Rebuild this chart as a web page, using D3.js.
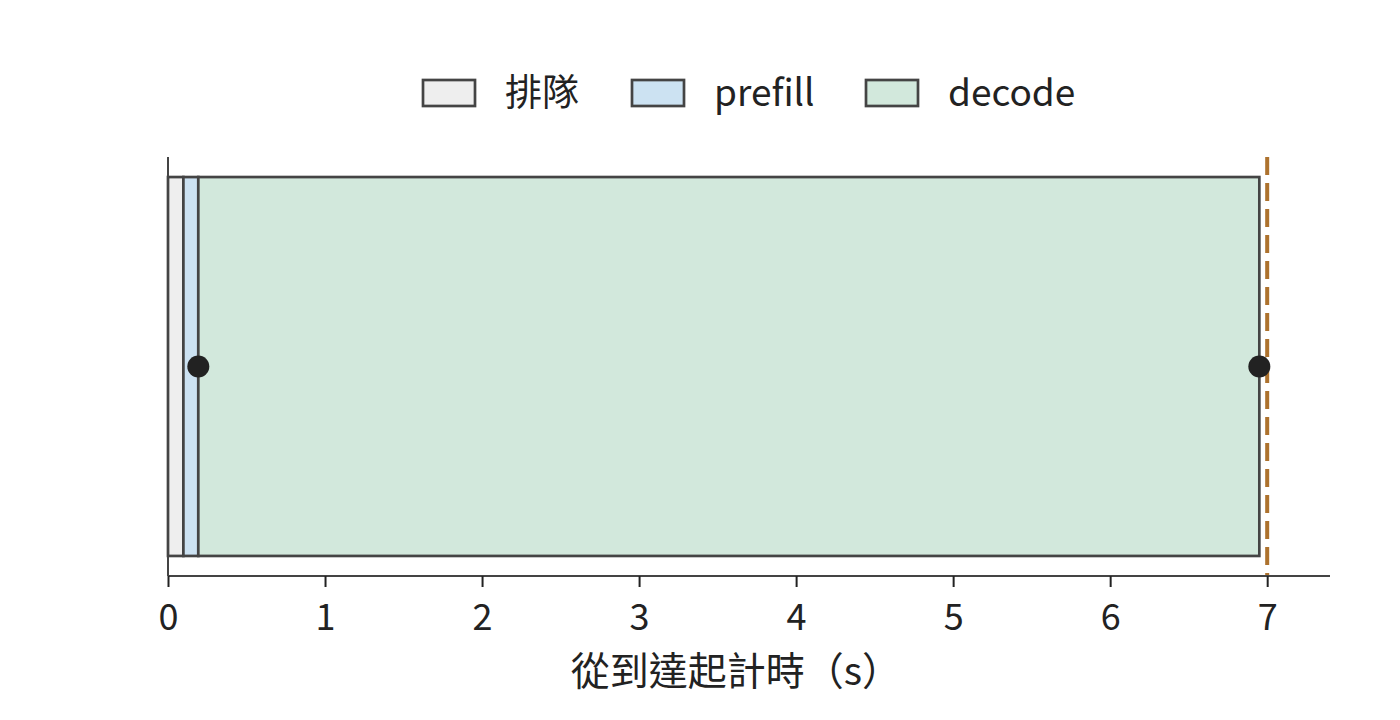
<!DOCTYPE html>
<html>
<head>
<meta charset="utf-8">
<script src="https://cdn.jsdelivr.net/npm/d3@7"></script>
<style>
  body { margin: 0; background: #fff; }
  text { font-family: "Noto Sans CJK TC", "Noto Sans", sans-serif; fill: #222; }
</style>
</head>
<body>
<svg id="chart" width="1400" height="720"></svg>
<script>
// stages of one request (seconds from arrival)
var stages = ["排隊", "prefill", "decode"];
var stageStart = [0, 0.098, 0.193];
var stageEnd = [0.098, 0.193, 6.95];
var stageColors = ["#eeeeee", "#cce2f2", "#d2e8dc"];

var markerTimes = [0.193, 6.95];   // first token, last token
var deadline = 7.0;

var xTicks = [0, 1, 2, 3, 4, 5, 6, 7];
var xLabel = "從到達起計時（s）";

var svg = d3.select("#chart");

var plotLeft = 168, plotRight = 1330, plotTop = 157, plotBottom = 576;

var x = d3.scaleLinear()
    .domain([0, 7.4])
    .range([plotLeft, plotRight]);

var y = d3.scaleBand()
    .domain(["req"])
    .range([plotTop, plotBottom])
    .paddingInner(0)
    .paddingOuter(0.05);

// bars
var bars = stages.map(function(s, i) {
    return {name: s, start: stageStart[i], end: stageEnd[i], color: stageColors[i]};
});

svg.selectAll("rect.stage")
    .data(bars)
    .enter()
    .append("rect")
    .attr("class", "stage")
    .attr("x", function(d) { return x(d.start); })
    .attr("y", y("req") + 1)
    .attr("width", function(d) { return x(d.end) - x(d.start); })
    .attr("height", y.bandwidth() - 2)
    .attr("fill", function(d) { return d.color; })
    .attr("stroke", "#444")
    .attr("stroke-width", 2.7);

// deadline line
svg.append("line")
    .attr("x1", x(deadline))
    .attr("x2", x(deadline))
    .attr("y1", plotTop)
    .attr("y2", plotBottom)
    .attr("stroke", "#ad722e")
    .attr("stroke-width", 4)
    .attr("stroke-dasharray", "18,8");

// token markers
svg.selectAll("circle.mark")
    .data(markerTimes)
    .enter()
    .append("circle")
    .attr("class", "mark")
    .attr("cx", function(d) { return x(d); })
    .attr("cy", y("req") + y.bandwidth() / 2)
    .attr("r", 11)
    .attr("fill", "#222");

// axes
var xAxis = svg.append("g")
    .attr("transform", "translate(0," + plotBottom + ")")
    .call(d3.axisBottom(x).tickValues(xTicks).tickSize(11).tickPadding(17).tickFormat(d3.format("d")));
xAxis.select(".domain").attr("stroke", "#444").attr("stroke-width", 2)
    .attr("d", "M" + plotLeft + ",0H" + plotRight);
xAxis.selectAll(".tick line").attr("stroke", "#222").attr("stroke-width", 2);
xAxis.selectAll(".tick text").style("font-size", "36px").attr("fill", "#222");

svg.append("line")
    .attr("x1", plotLeft).attr("x2", plotLeft)
    .attr("y1", plotTop).attr("y2", plotBottom)
    .attr("stroke", "#444")
    .attr("stroke-width", 2);

svg.append("text")
    .attr("x", 736)
    .attr("y", 685)
    .attr("text-anchor", "middle")
    .style("font-size", "39px")
    .text(xLabel);

// legend
var legendX = [423, 632, 866];
var legend = svg.selectAll("g.legend")
    .data(bars)
    .enter()
    .append("g")
    .attr("class", "legend")
    .attr("transform", function(d, i) { return "translate(" + legendX[i] + ",80)"; });

legend.append("rect")
    .attr("width", 52)
    .attr("height", 26)
    .attr("fill", function(d) { return d.color; })
    .attr("stroke", "#444")
    .attr("stroke-width", 2.7);

legend.append("text")
    .attr("x", 82)
    .attr("y", 13)
    .attr("dy", "0.35em")
    .style("font-size", "37px")
    .text(function(d) { return d.name; });
</script>
</body>
</html>
